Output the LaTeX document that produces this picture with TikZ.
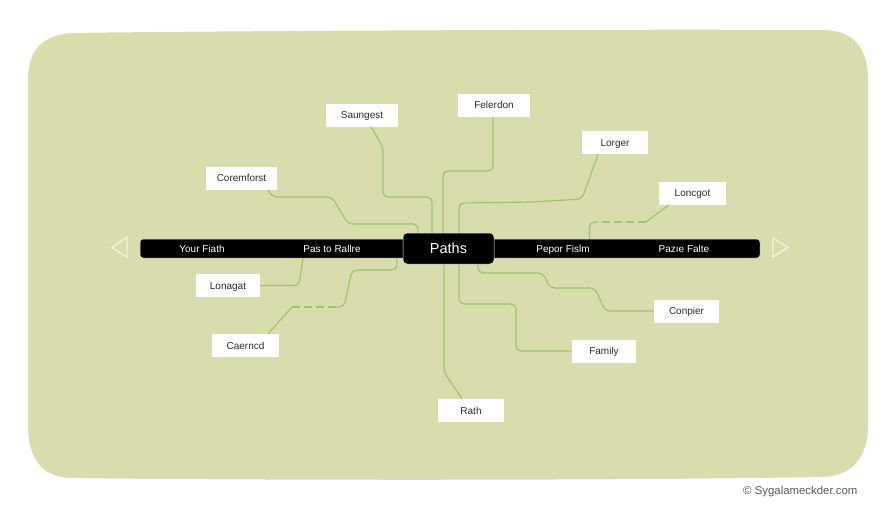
\documentclass[tikz,border=0pt]{standalone}
\usepackage{fontspec}
\setmainfont{Liberation Sans}
\definecolor{panelc}{HTML}{D9DCAC}
\definecolor{linkc}{HTML}{9CC76C}
\definecolor{arrowc}{HTML}{F4F5DF}
\definecolor{edgec}{HTML}{EEF0D6}
\definecolor{labelc}{HTML}{2B2B2B}
\tikzset{
  labelbox/.style={fill=white,text=labelc,inner sep=0pt,minimum height=23pt,text height=7.5pt,text depth=0pt,font=\fontsize{10}{12}\selectfont},
  barlabel/.style={text=white,inner sep=0pt,text height=7.5pt,text depth=0pt,font=\fontsize{10}{12}\selectfont},
  link/.style={draw=linkc,line width=1.2pt,rounded corners=5pt},
  dashlink/.style={draw=linkc,line width=1.2pt,dash pattern=on 8pt off 4pt},
  navarrow/.style={draw=arrowc,line width=1.3pt,line join=miter}
}
\begin{document}
\begin{tikzpicture}[x=1pt,y=-1pt]
\useasboundingbox (0,0) rectangle (896,512);
\fill[panelc] (28,80) .. controls (28,50) and (42,36) .. (70,33)
  .. controls (200,31) and (600,29) .. (825,30)
  .. controls (855,31) and (868,50) .. (868,80)
  -- (868,425) .. controls (868,458) and (852,476) .. (822,477)
  .. controls (600,481) and (200,480) .. (70,478)
  .. controls (42,477) and (28,458) .. (28,425) -- cycle;

\node[fill=black,draw=edgec,line width=.5pt,rounded corners=3pt,minimum width=620pt,minimum height=19pt,inner sep=0pt] (bar) at (450,248.5) {};
\node[fill=black,draw=edgec,line width=.5pt,rounded corners=4pt,minimum width=91pt,minimum height=31pt,inner sep=0pt,text=white,text height=10.5pt,text depth=0pt,font=\fontsize{14.5}{16}\selectfont] (paths) at (448.5,248.5) {Paths};

\node[barlabel] (b1) at (202,248.5) {Your Fiath};
\node[barlabel] (b2) at (332,248.5) {Pas to Rallre};
\node[barlabel] (b3) at (563,248.5) {Pepor Fislm};
\node[barlabel] (b4) at (684,248.5) {Pazıe Falte};

\node[labelbox,minimum width=72pt] (saung) at (362,115) {Saungest};
\node[labelbox,minimum width=71pt] (corem) at (241.5,178) {Coremforst};
\node[labelbox,minimum width=72pt] (feler) at (494,105) {Felerdon};
\node[labelbox,minimum width=66pt] (lorger) at (615,142.5) {Lorger};
\node[labelbox,minimum width=67pt] (loncg) at (692.5,193) {Loncgot};
\node[labelbox,minimum width=64pt] (lonag) at (228,285.5) {Lonagat};
\node[labelbox,minimum width=67pt] (caern) at (245.5,345.5) {Caerncd};
\node[labelbox,minimum width=65pt] (compl) at (686.5,311) {Conpier};
\node[labelbox,minimum width=64pt] (famil) at (604,351) {Family};
\node[labelbox,minimum width=66pt] (rath) at (471,410.5) {Rath};

\draw[link] ([xshift=9pt]saung.south) -- (383,147) -- (383,197) -- (432,197) -- ([xshift=-16.5pt]paths.north);
\draw[link] ([xshift=26.5pt]corem.south) -- (272,197) -- (332,197) -- (348,224) -- (418,224) -- ([xshift=-30.5pt]paths.north);
\draw[link] ([xshift=-1pt]feler.south) -- (493,171) -- (443,171) -- ([xshift=-5.5pt]paths.north);
\draw[link] ([xshift=-17pt]lorger.south) -- (582,199) -- (533,202) -- (459,203) -- ([xshift=10.5pt]paths.north);
\coordinate (lo1) at (646,222);
\coordinate (lo2) at (598,222);
\draw[link] ([xshift=-23.5pt]loncg.south) -- (lo1);
\draw[dashlink] (lo1) -- (lo2);
\draw[link] (lo2) -- (589.5,222) -- ([xshift=139.5pt]bar.north);
\draw[link] (lonag.east) -- (299,285.5) -- ([xshift=-147pt]bar.south);
\coordinate (ca1) at (292,307);
\coordinate (ca2) at (340,307);
\draw[link] ([xshift=22.5pt]caern.north) -- (ca1);
\draw[dashlink] (ca1) -- (ca2);
\draw[link] (ca2) -- (344,307) -- (352,270) -- (397,270) -- ([xshift=-53pt]bar.south);
\draw[link] (compl.west) -- (605,311) -- (595,288) -- (550,288) -- (543,273) -- (478,273) -- ([xshift=29.5pt]paths.south);
\draw[link] (famil.west) -- (516,351) -- (516,304) -- (459,304) -- ([xshift=10.5pt]paths.south);
\draw[link] ([xshift=-9pt]rath.north) -- (444,372) -- ([xshift=-4.5pt]paths.south);

\draw[navarrow] (127,237) -- (112,247.5) -- (127,257) -- cycle;
\draw[navarrow] (773,238) -- (788,247.5) -- (773,257) -- cycle;

\node[text=black!65,inner sep=0pt,anchor=west,font=\fontsize{11.4}{13}\selectfont] (copy) at (743,491.5) {© Sygalameckder.com};
\end{tikzpicture}
\end{document}
